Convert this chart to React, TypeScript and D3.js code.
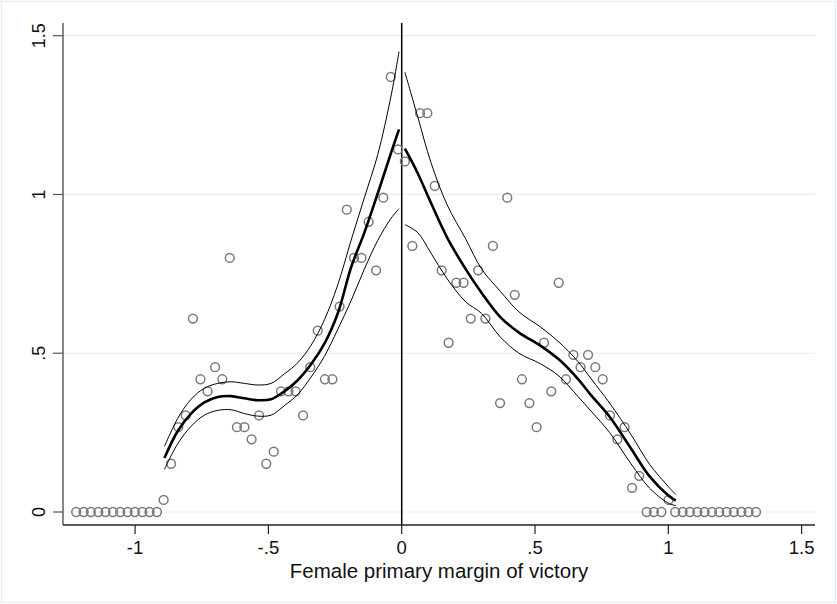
import * as React from 'react';
import {useEffect, useRef} from 'react';
import * as d3 from 'd3';

const width = 837;
const height = 604;

// binned means (x = margin of victory, y = outcome)
const binX = [
  -1.221, -1.193, -1.166, -1.138, -1.111, -1.083, -1.056, -1.028, -1.001, -0.973, -0.946, -0.918,
  -0.893, -0.865, -0.838, -0.810, -0.783, -0.755, -0.728, -0.700, -0.673, -0.645, -0.618, -0.590,
  -0.563, -0.535, -0.508, -0.480, -0.453, -0.425, -0.398, -0.370, -0.343, -0.315, -0.288, -0.260,
  -0.233, -0.206, -0.179, -0.151, -0.124, -0.096, -0.069, -0.041, -0.014,
  0.012, 0.040, 0.069, 0.096, 0.124, 0.150, 0.176, 0.205, 0.232, 0.259, 0.287, 0.314, 0.342,
  0.369, 0.396, 0.424, 0.451, 0.479, 0.506, 0.534, 0.561, 0.589, 0.616, 0.644, 0.671, 0.699,
  0.726, 0.754, 0.781, 0.809, 0.836, 0.864, 0.891, 0.919, 0.946, 0.974, 1.001,
  1.026, 1.054, 1.081, 1.109, 1.136, 1.164, 1.191, 1.219, 1.246, 1.274, 1.301, 1.329
];
const binY = [
  0, 0, 0, 0, 0, 0, 0, 0, 0, 0, 0, 0,
  0.038, 0.152, 0.267, 0.304, 0.609, 0.418, 0.380, 0.456, 0.418, 0.800, 0.267, 0.267,
  0.229, 0.304, 0.152, 0.190, 0.380, 0.380, 0.380, 0.304, 0.456, 0.571, 0.418, 0.418,
  0.647, 0.952, 0.800, 0.800, 0.914, 0.761, 0.990, 1.370, 1.142,
  1.104, 0.838, 1.256, 1.256, 1.027, 0.761, 0.533, 0.722, 0.722, 0.609, 0.761, 0.609, 0.838,
  0.343, 0.990, 0.684, 0.418, 0.343, 0.267, 0.533, 0.380, 0.722, 0.418, 0.495, 0.456, 0.495,
  0.456, 0.418, 0.304, 0.229, 0.267, 0.076, 0.114, 0, 0, 0, 0.038,
  0, 0, 0, 0, 0, 0, 0, 0, 0, 0, 0, 0
];

// local polynomial fit, left of cutoff
const leftX = [-0.89, -0.84, -0.79, -0.74, -0.69, -0.64, -0.59, -0.54, -0.49, -0.44, -0.39, -0.34, -0.29, -0.24, -0.19, -0.14, -0.09, -0.04, -0.01];
const leftFit = [0.17, 0.255, 0.31, 0.345, 0.362, 0.365, 0.358, 0.352, 0.355, 0.38, 0.415, 0.465, 0.53, 0.625, 0.77, 0.88, 1.003, 1.131, 1.205];
const leftHi = [0.206, 0.295, 0.355, 0.39, 0.405, 0.41, 0.405, 0.4, 0.405, 0.435, 0.47, 0.525, 0.605, 0.715, 0.855, 0.99, 1.125, 1.31, 1.45];
const leftLo = [0.134, 0.215, 0.27, 0.305, 0.32, 0.322, 0.31, 0.302, 0.305, 0.335, 0.37, 0.425, 0.49, 0.575, 0.665, 0.765, 0.855, 0.925, 0.955];

// local polynomial fit, right of cutoff
const rightX = [0.012, 0.06, 0.11, 0.17, 0.24, 0.3, 0.37, 0.44, 0.52, 0.59, 0.66, 0.71, 0.78, 0.86, 0.93, 1.0, 1.028];
const rightFit = [1.144, 1.067, 0.973, 0.865, 0.765, 0.69, 0.614, 0.565, 0.524, 0.48, 0.42, 0.368, 0.30, 0.20, 0.112, 0.052, 0.036];
const rightHi = [1.385, 1.245, 1.1, 0.968, 0.86, 0.765, 0.695, 0.63, 0.583, 0.535, 0.475, 0.42, 0.343, 0.244, 0.15, 0.08, 0.055];
const rightLo = [0.905, 0.88, 0.815, 0.735, 0.662, 0.625, 0.551, 0.50, 0.467, 0.428, 0.365, 0.318, 0.25, 0.152, 0.075, 0.028, 0.02];

const xTicks = [-1, -0.5, 0, 0.5, 1, 1.5];
const xTickLabels = ['-1', '-.5', '0', '.5', '1', '1.5'];
const yTicks = [0, 0.5, 1, 1.5];
const yTickLabels = ['0', '.5', '1', '1.5'];

const xTitle = 'Female primary margin of victory';

export default function App() {
  const ref = useRef<SVGSVGElement>(null);

  useEffect(() => {
    const svg = d3.select(ref.current);
    svg.selectAll('*').remove();
    svg.style('font-family', '"Liberation Sans", Arial, Helvetica, sans-serif');

    const plotLeft = 63;
    const plotRight = 815;
    const plotTop = 23;
    const plotBottom = 525;

    const x = d3.scaleLinear().domain([0, 1]).range([401.7, 668.3]);
    const y = d3.scaleLinear().domain([0, 1.5]).range([512, 35.7]);

    // outer frame
    svg.append('rect')
      .attr('x', 1.5).attr('y', 1.5)
      .attr('width', width - 3).attr('height', height - 3)
      .attr('fill', '#ffffff')
      .attr('stroke', '#e7eef1')
      .attr('stroke-width', 1.5);

    // gridlines
    svg.append('g')
      .selectAll('line')
      .data(yTicks)
      .join('line')
        .attr('x1', plotLeft).attr('x2', plotRight)
        .attr('y1', d => y(d)).attr('y2', d => y(d))
        .attr('stroke', '#e4edf1')
        .attr('stroke-width', 1.2);

    // cutoff line
    svg.append('line')
      .attr('x1', x(0)).attr('x2', x(0))
      .attr('y1', plotTop).attr('y2', plotBottom)
      .attr('stroke', '#000')
      .attr('stroke-width', 1.5);

    // scatter
    svg.append('g')
      .selectAll('circle')
      .data(binX.map((v, i) => [v, binY[i]]))
      .join('circle')
        .attr('cx', d => x(d[0]))
        .attr('cy', d => y(d[1]))
        .attr('r', 4.4)
        .attr('fill', 'none')
        .attr('stroke', '#7a7a7a')
        .attr('stroke-width', 1.5);

    const line = d3.line<[number, number]>()
      .x(d => x(d[0]))
      .y(d => y(d[1]))
      .curve(d3.curveCatmullRom.alpha(0.5));

    const series = [
      {xs: leftX, ys: leftHi, w: 1},
      {xs: leftX, ys: leftLo, w: 1},
      {xs: leftX, ys: leftFit, w: 2.6},
      {xs: rightX, ys: rightHi, w: 1},
      {xs: rightX, ys: rightLo, w: 1},
      {xs: rightX, ys: rightFit, w: 2.6}
    ];
    svg.append('g')
      .selectAll('path')
      .data(series)
      .join('path')
        .attr('d', s => line(s.xs.map((v, i) => [v, s.ys[i]] as [number, number])))
        .attr('fill', 'none')
        .attr('stroke', '#000')
        .attr('stroke-width', s => s.w);

    // y axis
    const ya = svg.append('g');
    ya.append('line')
      .attr('x1', plotLeft).attr('x2', plotLeft)
      .attr('y1', plotTop).attr('y2', plotBottom)
      .attr('stroke', '#555').attr('stroke-width', 1.4);
    ya.selectAll('line.tick')
      .data(yTicks)
      .join('line')
        .attr('class', 'tick')
        .attr('x1', plotLeft - 10).attr('x2', plotLeft)
        .attr('y1', d => y(d)).attr('y2', d => y(d))
        .attr('stroke', '#555').attr('stroke-width', 1.2);
    ya.selectAll('text')
      .data(yTicks)
      .join('text')
        .attr('transform', d => `translate(44.5,${y(d)}) rotate(-90)`)
        .attr('text-anchor', 'middle')
        .attr('font-size', 18)
        .attr('fill', '#111')
        .text((d, i) => yTickLabels[i]);

    // x axis
    const xa = svg.append('g');
    xa.append('line')
      .attr('x1', plotLeft).attr('x2', plotRight)
      .attr('y1', plotBottom).attr('y2', plotBottom)
      .attr('stroke', '#222').attr('stroke-width', 1.4);
    xa.selectAll('line.tick')
      .data(xTicks)
      .join('line')
        .attr('class', 'tick')
        .attr('x1', d => x(d)).attr('x2', d => x(d))
        .attr('y1', plotBottom).attr('y2', plotBottom + 9)
        .attr('stroke', '#222').attr('stroke-width', 1.2);
    xa.selectAll('text')
      .data(xTicks)
      .join('text')
        .attr('x', d => x(d))
        .attr('y', 554)
        .attr('text-anchor', 'middle')
        .attr('font-size', 18.5)
        .attr('fill', '#111')
        .text((d, i) => xTickLabels[i]);

    svg.append('text')
      .attr('x', (plotLeft + plotRight) / 2)
      .attr('y', 578)
      .attr('text-anchor', 'middle')
      .attr('font-size', 20.5)
      .attr('fill', '#111')
      .text(xTitle);
  }, []);

  return (
    <svg
      ref={ref}
      width={width}
      height={height}
      style={{position: 'absolute', left: 0, top: 0, background: '#fff'}}
    />
  );
}
